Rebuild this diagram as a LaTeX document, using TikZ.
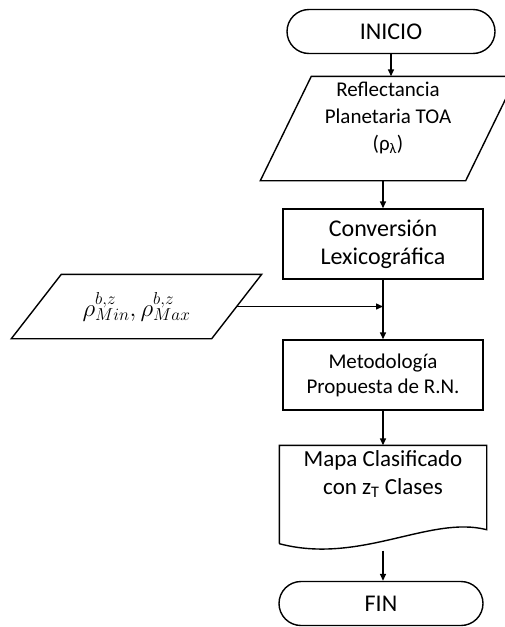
\documentclass[tikz,border=0pt]{standalone}
\usepackage{fontspec}
\setmainfont{Carlito}
\usetikzlibrary{shapes.misc,arrows.meta,positioning}

\tikzset{
    term/.style={rounded rectangle, draw, minimum height=44pt, inner sep=0pt,
        font=\fontsize{24}{28}\selectfont},
    proc/.style={rectangle, draw, minimum width=200pt, minimum height=70pt, inner sep=0pt, align=center},
    frame/.style={rectangle, inner sep=0pt},
    txt/.style={inner sep=0pt, align=center},
    flow/.style={-{Triangle[length=7pt,width=6pt]}}
}

\begin{document}
\begin{tikzpicture}[x=1pt,y=-1pt,line width=1.4pt]
    \useasboundingbox (0,0) rectangle (504,627);

    % Inicio
    \node[term, minimum width=208pt] (inicio) at (391,31.5) {INICIO};

    % Entrada: reflectancia
    \node[frame, minimum width=204pt, minimum height=103pt] (refl) at (388.5,128.5) {};
    \draw ([xshift=-25.5pt]refl.south west) -- ([xshift=-25.5pt]refl.south east)
        -- ([xshift=25.5pt]refl.north east) -- ([xshift=25.5pt]refl.north west) -- cycle;
    \node[txt, font=\fontsize{21}{27}\selectfont] (refl-txt) at (388,118)
        {Reflectancia\\Planetaria TOA\\(ρ\textsubscript{λ})};

    % Conversion
    \node[proc, font=\fontsize{24}{28}\selectfont] (conv) at (383,244)
        {Conversión\\Lexicográfica};

    % Entrada: limites
    \node[frame, minimum width=199pt, minimum height=63pt,
        font=\fontsize{24}{28}\selectfont] (lim) at (136.5,306.5)
        {$\rho^{b,z}_{Min},\rho^{b,z}_{Max}$};
    \draw ([xshift=-25pt]lim.south west) -- ([xshift=-25pt]lim.south east)
        -- ([xshift=25pt]lim.north east) -- ([xshift=25pt]lim.north west) -- cycle;

    % Metodologia
    \node[proc, font=\fontsize{21}{25}\selectfont] (meto) at (383,375)
        {Metodología\\Propuesta de R.N.};

    % Salida: mapa
    \node[frame, minimum width=206pt, minimum height=104pt] (mapa) at (383,498) {};
    \draw ([yshift=7pt]mapa.south west) -- (mapa.north west) -- (mapa.north east)
        -- ([yshift=21pt]mapa.south east)
        .. controls (430,515) and (360,565) .. ([yshift=7pt]mapa.south west);
    \node[txt, font=\fontsize{23}{28}\selectfont] (mapa-txt) at (383,474)
        {Mapa Clasificado\\con z\textsubscript{T} Clases};

    % Fin
    \node[term, minimum width=204pt] (fin) at (381,603.5) {FIN};

    % flechas
    \draw[flow] (inicio.south) -- (inicio.south |- refl.north);
    \draw[flow] (refl.south -| conv.north) -- (conv.north);
    \draw[flow] (conv.south) -- (meto.north);
    \draw[flow] (lim.east) -- (lim.east -| conv.south);
    \draw[flow] (meto.south) -- (mapa.north);
    \draw[flow] (mapa.south) -- (mapa.south |- fin.north);
\end{tikzpicture}
\end{document}
